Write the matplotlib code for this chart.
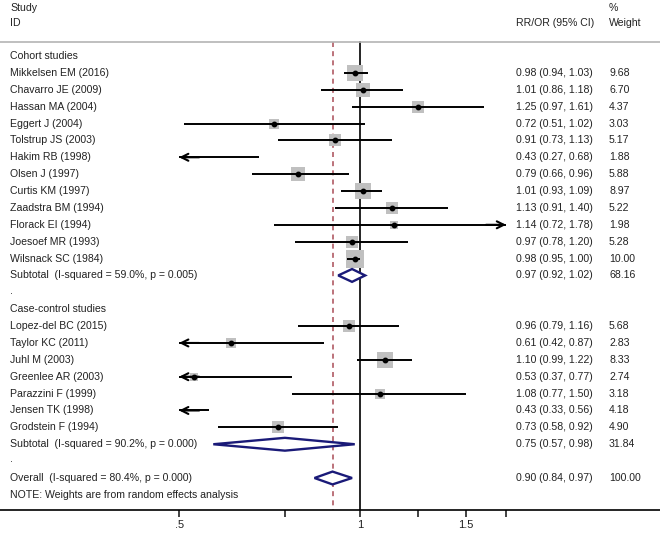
import numpy as np
import matplotlib
matplotlib.use("Agg")
import matplotlib.pyplot as plt

plt.rcParams['font.family'] = ['Liberation Sans', 'DejaVu Sans']

# ---- data ----
cohort_names = ["Mikkelsen EM (2016)", "Chavarro JE (2009)", "Hassan MA (2004)",
                "Eggert J (2004)", "Tolstrup JS (2003)", "Hakim RB (1998)",
                "Olsen J (1997)", "Curtis KM (1997)", "Zaadstra BM (1994)",
                "Florack EI (1994)", "Joesoef MR (1993)", "Wilsnack SC (1984)"]
cohort_est = [0.98, 1.01, 1.25, 0.72, 0.91, 0.43, 0.79, 1.01, 1.13, 1.14, 0.97, 0.98]
cohort_lo = [0.94, 0.86, 0.97, 0.51, 0.73, 0.27, 0.66, 0.93, 0.91, 0.72, 0.78, 0.95]
cohort_hi = [1.03, 1.18, 1.61, 1.02, 1.13, 0.68, 0.96, 1.09, 1.40, 1.78, 1.20, 1.00]
cohort_w = [9.68, 6.70, 4.37, 3.03, 5.17, 1.88, 5.88, 8.97, 5.22, 1.98, 5.28, 10.00]

cc_names = ["Lopez-del BC (2015)", "Taylor KC (2011)", "Juhl M (2003)",
            "Greenlee AR (2003)", "Parazzini F (1999)", "Jensen TK (1998)",
            "Grodstein F (1994)"]
cc_est = [0.96, 0.61, 1.10, 0.53, 1.08, 0.43, 0.73]
cc_lo = [0.79, 0.42, 0.99, 0.37, 0.77, 0.33, 0.58]
cc_hi = [1.16, 0.87, 1.22, 0.77, 1.50, 0.56, 0.92]
cc_w = [5.68, 2.83, 8.33, 2.74, 3.18, 4.18, 4.90]

sub_labels = ["Subtotal  (I-squared = 59.0%, p = 0.005)",
              "Subtotal  (I-squared = 90.2%, p = 0.000)"]
sub_est = [0.97, 0.75]
sub_lo = [0.92, 0.57]
sub_hi = [1.02, 0.98]
sub_w = [68.16, 31.84]

overall_label = "Overall  (I-squared = 80.4%, p = 0.000)"
overall_est, overall_lo, overall_hi, overall_w = 0.90, 0.84, 0.97, 100.00

xticks = [0.5, 0.75, 1.0, 1.25, 1.5, 1.75]
xticklabels = [".5", "", "1", "", "1.5", ""]
xmin_data, xmax_data = 0.5, 1.75

# ---- figure ----
W, H = 660, 533
fig = plt.figure(figsize=(W / 100, H / 100), dpi=100)
axis_px = 510
ax = fig.add_axes([0, (H - axis_px) / H, 1, axis_px / H])

row_px = 16.88
first_px = 56
def row_to_lim(px):
    return (px - first_px) / row_px

ax.set_xscale('log')
# 1 at px 360, 261 px per ln unit
x_lo = np.exp((0 - 360) / 261.0)
x_hi = np.exp((W - 360) / 261.0)
ax.set_xlim(x_lo, x_hi)
ax.set_ylim(row_to_lim(axis_px), row_to_lim(0))

for s in ['top', 'left', 'right']:
    ax.spines[s].set_visible(False)
ax.spines['bottom'].set_linewidth(1.2)
ax.set_yticks([])
ax.xaxis.set_major_locator(matplotlib.ticker.FixedLocator(xticks))
ax.xaxis.set_minor_locator(matplotlib.ticker.NullLocator())
ax.set_xticklabels(xticklabels)
ax.tick_params(axis='x', length=5, width=1.2, direction='out', labelsize=8, pad=2.5,
               colors='#222222')

txt_color = '#222222'
fs = 7.6
tx = ax.get_yaxis_transform()  # x in axes fraction, y in data
col_left = 10 / W
col_est = 516 / W
col_w = 609 / W

top_line_row = row_to_lim(42)
ax.axhline(top_line_row, color='#b4b4b4', lw=1.2)

# headers
ax.text(col_left, row_to_lim(8), "Study", transform=tx, fontsize=fs, color=txt_color, va='center')
ax.text(col_left, row_to_lim(23), "ID", transform=tx, fontsize=fs, color=txt_color, va='center')
ax.text(col_est, row_to_lim(23), "RR/OR (95% CI)", transform=tx, fontsize=fs, color=txt_color, va='center')
ax.text(col_w, row_to_lim(8), "%", transform=tx, fontsize=fs, color=txt_color, va='center')
ax.text(col_w, row_to_lim(23), "Weight", transform=tx, fontsize=fs, color=txt_color, va='center')

# vertical lines
bottom_row = row_to_lim(axis_px)
ax.plot([1, 1], [top_line_row, bottom_row], color='black', lw=1.2, zorder=1)
ax.plot([overall_est, overall_est], [top_line_row, bottom_row], color='#b05a64', lw=1.2,
        ls=(0, (3, 2.5)), zorder=1)

def study_row(y, name, est, lo, hi, w):
    ax.text(col_left, y, name, transform=tx, fontsize=fs, color=txt_color, va='center')
    ax.text(col_est, y, f"{est:.2f} ({lo:.2f}, {hi:.2f})", transform=tx, fontsize=fs,
            color=txt_color, va='center')
    ax.text(col_w, y, f"{w:.2f}", transform=tx, fontsize=fs, color=txt_color, va='center')
    l = max(lo, xmin_data)
    h = min(hi, xmax_data)
    if xmin_data <= est <= xmax_data:
        side = 5.4 * np.sqrt(w)
        ax.plot([est], [y], marker='s', ms=side * 0.72, mfc='#c0c0c0', mec='#c0c0c0',
                mew=0, zorder=2)
    ax.plot([l, h], [y, y], color='black', lw=1.4, zorder=3, solid_capstyle='butt')
    if lo < xmin_data:
        ax.annotate('', xy=(xmin_data, y), xytext=(l * 1.08, y),
                    arrowprops=dict(arrowstyle='->', lw=1.5, color='black',
                                    shrinkA=0, shrinkB=0, mutation_scale=12.5), zorder=3)
    if hi > xmax_data:
        ax.annotate('', xy=(xmax_data, y), xytext=(h / 1.08, y),
                    arrowprops=dict(arrowstyle='->', lw=1.5, color='black',
                                    shrinkA=0, shrinkB=0, mutation_scale=12.5), zorder=3)
    if xmin_data <= est <= xmax_data:
        ax.plot([est], [y], marker='o', ms=3.2, color='black', zorder=4)

def diamond(y, label, est, lo, hi, w):
    ax.text(col_left, y, label, transform=tx, fontsize=fs, color=txt_color, va='center')
    ax.text(col_est, y, f"{est:.2f} ({lo:.2f}, {hi:.2f})", transform=tx, fontsize=fs,
            color=txt_color, va='center')
    ax.text(col_w, y, f"{w:.2f}", transform=tx, fontsize=fs, color=txt_color, va='center')
    hh = 0.38
    xs = [lo, est, hi, est, lo]
    ys = [y, y - hh, y, y + hh, y]
    ax.fill(xs, ys, facecolor='white', edgecolor='#1a1a78', lw=1.7, zorder=5)

r = 0
ax.text(col_left, r, "Cohort studies", transform=tx, fontsize=fs, color=txt_color, va='center')
r += 1
for i in range(len(cohort_names)):
    study_row(r, cohort_names[i], cohort_est[i], cohort_lo[i], cohort_hi[i], cohort_w[i])
    r += 1
diamond(r, sub_labels[0], sub_est[0], sub_lo[0], sub_hi[0], sub_w[0])
r += 1
ax.text(col_left, r - 0.1, ".", transform=tx, fontsize=fs, color=txt_color, va='center')
r += 1
ax.text(col_left, r, "Case-control studies", transform=tx, fontsize=fs, color=txt_color, va='center')
r += 1
for i in range(len(cc_names)):
    study_row(r, cc_names[i], cc_est[i], cc_lo[i], cc_hi[i], cc_w[i])
    r += 1
diamond(r, sub_labels[1], sub_est[1], sub_lo[1], sub_hi[1], sub_w[1])
r += 1
ax.text(col_left, r - 0.1, ".", transform=tx, fontsize=fs, color=txt_color, va='center')
r += 1
diamond(r, overall_label, overall_est, overall_lo, overall_hi, overall_w)
r += 1
ax.text(col_left, r, "NOTE: Weights are from random effects analysis", transform=tx,
        fontsize=fs, color=txt_color, va='center')

fig.savefig("out.png", dpi=100)
